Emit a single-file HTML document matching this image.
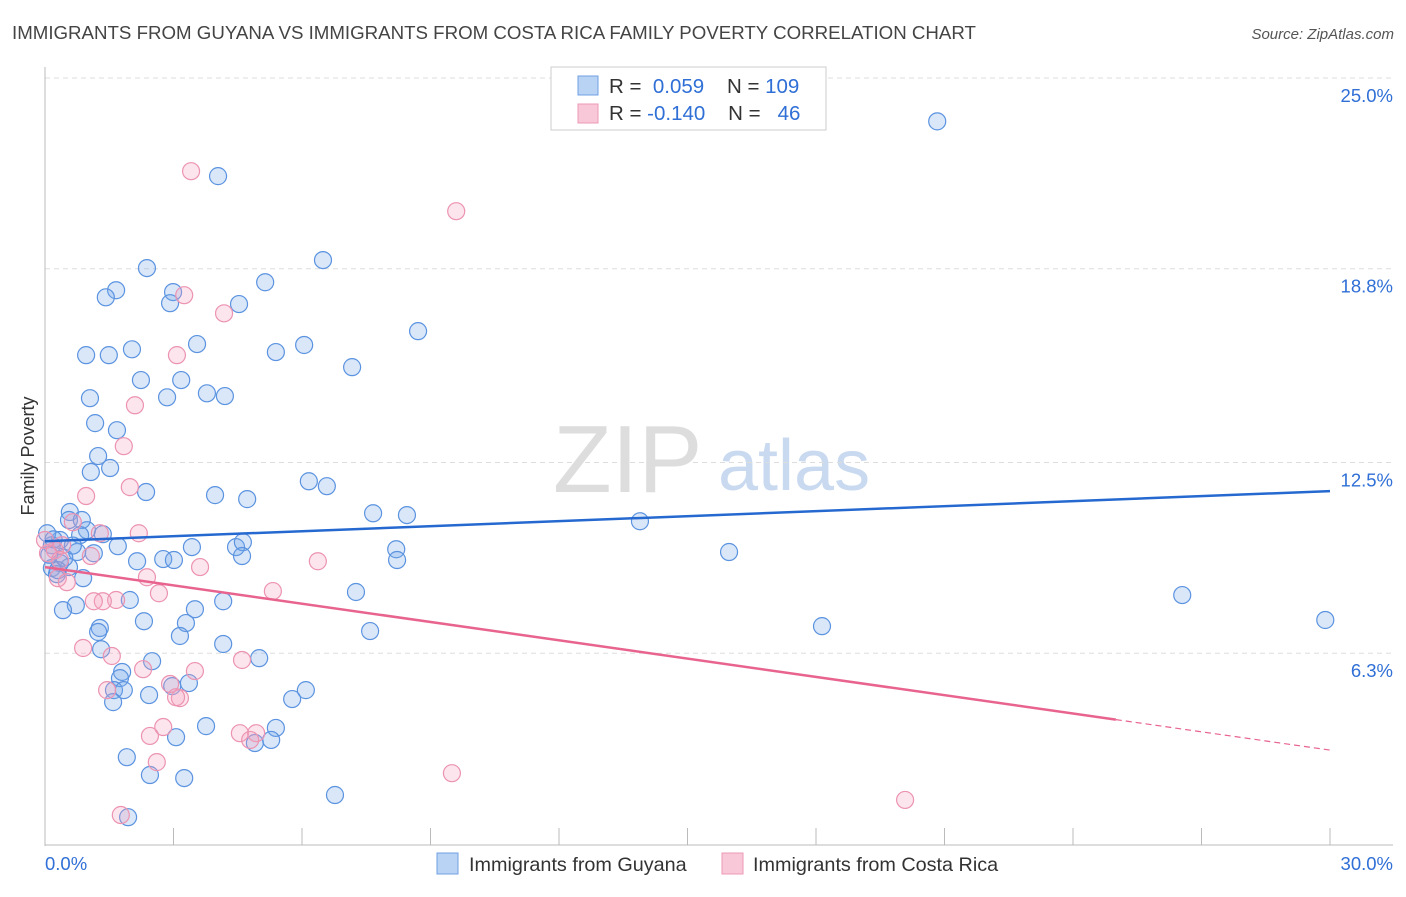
<!DOCTYPE html>
<html><head><meta charset="utf-8"><style>
body{margin:0;background:#fff;font-family:"Liberation Sans",sans-serif;}
svg text{font-family:"Liberation Sans",sans-serif;}
</style></head><body>
<svg id="chart" width="1406" height="892" viewBox="0 0 1406 892" xmlns="http://www.w3.org/2000/svg">
<text x="12" y="39" font-size="18.7" fill="#444">IMMIGRANTS FROM GUYANA VS IMMIGRANTS FROM COSTA RICA FAMILY POVERTY CORRELATION CHART</text>
<text x="1394" y="39" font-size="15" fill="#555" font-style="italic" text-anchor="end">Source: ZipAtlas.com</text>
<text x="553" y="492" font-size="96" fill="#ddd" font-family="Liberation Serif, serif">ZIP</text>
<text x="718" y="490" font-size="72" fill="#c9daf0">atlas</text>
<text transform="translate(34,456) rotate(-90)" font-size="18" fill="#333" text-anchor="middle">Family Poverty</text>
<g id="grid"></g><g id="axes"></g><g id="pts"></g><g id="lines"></g>
<g>
<rect x="551" y="67" width="275" height="63" fill="#fff" stroke="#ccc"/>
<rect x="578" y="76" width="20" height="19" fill="#b9d3f5" stroke="#6f9fe0"/>
<rect x="578" y="104" width="20" height="19" fill="#f8c8d8" stroke="#ee9ab5"/>
<text x="609" y="93" font-size="20.5" fill="#333">R = <tspan fill="#2f6fd6">&#160;0.059</tspan>&#160;&#160;&#160; N = <tspan fill="#2f6fd6">109</tspan></text>
<text x="609" y="120" font-size="20.5" fill="#333">R = <tspan fill="#2f6fd6">-0.140</tspan>&#160;&#160;&#160; N = <tspan fill="#2f6fd6">&#160;&#160;46</tspan></text>
</g>
<g>
<rect x="437" y="853" width="21" height="21" fill="#b9d3f5" stroke="#6f9fe0"/>
<text x="469" y="871" font-size="19.8" fill="#333">Immigrants from Guyana</text>
<rect x="722" y="853" width="21" height="21" fill="#f8c8d8" stroke="#ee9ab5"/>
<text x="753" y="871" font-size="19.8" fill="#333">Immigrants from Costa Rica</text>
</g>
</svg>
<script>
const yTicks=[25.0,18.8,12.5,6.3];
const yTickLabels=["25.0%","18.8%","12.5%","6.3%"];
const xTickLabels=["0.0%","30.0%"];
const guyanaX=[20.83,4.04,6.49,2.38,5.14,1.66,1.42,2.99,2.92,4.53,8.71,3.55,6.05,2.03,0.96,1.49,5.39,7.17,2.24,3.18,3.78,4.20,2.85,1.05,1.17,1.68,1.52,1.24,1.07,6.16,6.58,2.36,3.97,4.72,0.58,0.56,0.86,7.66,8.45,13.89,0.98,0.82,1.35,0.35,0.16,1.70,3.43,4.46,4.62,8.20,15.97,1.14,0.75,2.76,3.01,4.60,2.15,8.22,0.35,0.16,0.56,0.89,0.28,7.26,26.55,4.16,1.98,0.72,0.42,3.50,2.31,18.14,29.89,3.29,7.59,1.28,1.24,3.15,4.16,1.31,2.50,5.00,1.80,1.75,1.61,1.84,2.97,3.36,2.43,6.09,5.77,1.59,3.76,5.39,3.06,4.90,5.28,1.91,2.45,3.25,6.77,1.94,0.05,0.10,0.20,0.45,0.65,0.30];
const guyanaY=[23.59,21.81,19.08,18.82,18.36,18.10,17.87,18.04,17.68,17.65,16.77,16.35,16.32,16.18,15.99,15.99,16.09,15.60,15.18,15.18,14.75,14.66,14.62,14.59,13.78,13.55,12.32,12.71,12.19,11.89,11.73,11.54,11.44,11.31,10.89,10.63,10.63,10.85,10.79,10.59,10.30,10.14,10.17,9.98,9.81,9.78,9.75,9.75,9.91,9.68,9.59,9.55,9.59,9.36,9.33,9.46,9.29,9.33,9.23,9.07,9.10,8.74,8.87,8.29,8.19,7.99,8.03,7.86,7.70,7.73,7.34,7.18,7.38,7.28,7.02,7.12,6.99,6.86,6.60,6.43,6.04,6.14,5.69,5.49,5.10,5.10,5.23,5.33,4.94,5.10,4.81,4.71,3.93,3.87,3.57,3.38,3.48,2.92,2.34,2.24,1.69,0.97,10.2,9.5,10.0,9.4,9.8,9.0];
const costaX=[3.41,9.60,3.25,4.18,3.08,2.10,1.84,1.98,0.96,0.65,1.28,2.19,0.40,0.23,0.07,0.30,0.51,1.07,3.62,6.37,2.38,2.66,5.32,1.66,1.35,1.14,0.89,1.56,4.60,2.29,3.50,1.45,2.92,3.15,3.06,2.76,4.55,4.93,2.45,4.79,2.61,9.50,20.08,1.77,0.0,0.35];
const costaY=[21.97,20.67,17.94,17.35,15.99,14.36,13.03,11.70,11.41,10.56,10.20,10.20,9.81,9.65,9.55,8.74,8.61,9.46,9.10,9.29,8.77,8.25,8.32,8.03,7.99,7.99,6.47,6.21,6.08,5.78,5.72,5.10,5.30,4.84,4.87,3.90,3.70,3.70,3.61,3.48,2.76,2.40,1.53,1.04,9.98,9.33];
const guyanaTrend=[9.94,11.57];
const costaTrend=[9.10,3.15];
const costaSolidEnd=25.0;

const NS="http://www.w3.org/2000/svg";
const X0=45,X1=1330,Y0=847,Y25=78;
function xs(v){return X0+(X1-X0)*v/30;}
function ys(v){return Y0-(Y0-Y25)*v/25;}
function mk(tag,attrs,parent){const e=document.createElementNS(NS,tag);for(const k in attrs)e.setAttribute(k,attrs[k]);document.getElementById(parent).appendChild(e);return e;}
yTicks.forEach((t,i)=>{
  const g=mk('line',{x1:45,x2:1393,y1:ys(t),y2:ys(t),stroke:'#ddd','stroke-dasharray':'5,4'},'grid');
  
  
  const l=mk('text',{x:1393,y:ys(t)+24,'font-size':18.5,fill:'#2f6fd6','text-anchor':'end'},'grid');
  l.textContent=yTickLabels[i];
  
  
});
let ax=mk('line',{x1:45,x2:45,y1:67,y2:846,stroke:'#bbb'},'axes');


ax=mk('line',{x1:45,x2:1393,y1:845,y2:845,stroke:'#bbb'},'axes');


for(let i=0;i<=10;i++){
  const t=mk('line',{x1:xs(i*3),x2:xs(i*3),y1:828,y2:845,stroke:'#bbb'},'axes');
  
  
}
let xl=mk('text',{x:45,y:870,'font-size':18.5,fill:'#2f6fd6'},'axes');
xl.textContent=xTickLabels[0];


xl=mk('text',{x:1393,y:870,'font-size':18.5,fill:'#2f6fd6','text-anchor':'end'},'axes');
xl.textContent=xTickLabels[1];


guyanaX.forEach((v,i)=>{
  const c=mk('circle',{cx:xs(v),cy:ys(guyanaY[i]),r:8.5,fill:'rgba(120,170,235,0.28)',stroke:'#5b93e0','stroke-width':1.2},'pts');
  
  
});
costaX.forEach((v,i)=>{
  const c=mk('circle',{cx:xs(v),cy:ys(costaY[i]),r:8.5,fill:'rgba(245,160,190,0.28)',stroke:'#ec93b1','stroke-width':1.2},'pts');
  
  
});
let tl=mk('line',{x1:xs(0),y1:ys(guyanaTrend[0]),x2:xs(30),y2:ys(guyanaTrend[1]),stroke:'#2569d0','stroke-width':2.5},'lines');


const midY=costaTrend[0]+(costaTrend[1]-costaTrend[0])*costaSolidEnd/30;
tl=mk('line',{x1:xs(0),y1:ys(costaTrend[0]),x2:xs(costaSolidEnd),y2:ys(midY),stroke:'#e8638e','stroke-width':2.5},'lines');


tl=mk('line',{x1:xs(costaSolidEnd),y1:ys(midY),x2:xs(30),y2:ys(costaTrend[1]),stroke:'#e8638e','stroke-width':1.2,'stroke-dasharray':'6,4'},'lines');


</script>
</body></html>
